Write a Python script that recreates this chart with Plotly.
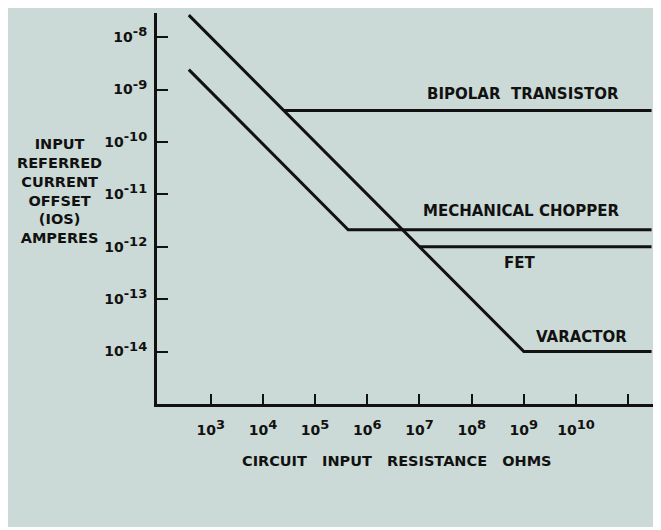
import math
import plotly.graph_objects as go

# ---- data (log-log) ----
bipolar_r = [2.5e4, 2.8e11]
bipolar_i = [4e-10, 4e-10]

chopper_r = [380, 4.3e5, 2.8e11]
chopper_i = [2.4e-9, 2.1e-12, 2.1e-12]

fet_r = [1e7, 2.8e11]
fet_i = [1e-12, 1e-12]

varactor_r = [380, 1e9, 2.8e11]
varactor_i = [2.63e-8, 1e-14, 1e-14]

x_tickvals = [1e3, 1e4, 1e5, 1e6, 1e7, 1e8, 1e9, 1e10, 1e11]
x_exps = ["3", "4", "5", "6", "7", "8", "9", "10", ""]
y_tickvals = [1e-14, 1e-13, 1e-12, 1e-11, 1e-10, 1e-9, 1e-8]
y_exps = ["-14", "-13", "-12", "-11", "-10", "-9", "-8"]

labels = ["BIPOLAR\u00a0\u00a0TRANSISTOR", "MECHANICAL\u00a0CHOPPER", "FET", "VARACTOR"]
label_r = [9.8e8, 8.9e8, 8.3e8, 1.3e10]
label_i = [8.3e-10, 4.8e-12, 5.0e-13, 1.9e-14]

BG = "#cbdad6"
INK = "#111111"
FONT = "DejaVu Sans, Liberation Sans, sans-serif"


def power_label(e):
    if not e:
        return ""
    return "<b>10<sup><span style='font-size:13px'>" + e + "</span></sup></b>"


fig = go.Figure()
for xs, ys in [(bipolar_r, bipolar_i), (chopper_r, chopper_i), (fet_r, fet_i), (varactor_r, varactor_i)]:
    fig.add_trace(go.Scatter(x=xs, y=ys, mode="lines",
                             line=dict(color=INK, width=3), showlegend=False,
                             hoverinfo="skip"))

for t, xr, yi in zip(labels, label_r, label_i):
    fig.add_annotation(x=math.log10(xr), y=math.log10(yi), xref="x", yref="y",
                       text="<b>" + t + "</b>",
                       showarrow=False, font=dict(family=FONT, size=15, color=INK))

# page offset of the figure (default body margin)
OFF = 8
PL, PR, PT, PB = 157, 653, 13, 404  # plot area in page pixels


def px(xp):
    return (xp - PL) / (PR - PL)


def py(yp):
    return (PB - yp) / (PB - PT)


fig.add_annotation(xref="paper", yref="paper", x=px(397), y=py(461),
                   text="<b>CIRCUIT\u00a0\u00a0 INPUT\u00a0\u00a0 RESISTANCE\u00a0\u00a0 OHMS</b>",
                   showarrow=False, font=dict(family=FONT, size=14.5, color=INK),
                   xanchor="center", yanchor="middle")
fig.add_annotation(xref="paper", yref="paper", x=px(59), y=py(191),
                   text="<b>INPUT<br>REFERRED<br>CURRENT<br>OFFSET<br>(IOS)<br>AMPERES</b>",
                   showarrow=False, font=dict(family=FONT, size=14.5, color=INK),
                   xanchor="center", yanchor="middle", align="center")

fig.add_shape(type="rect", xref="paper", yref="paper", layer="below",
              x0=px(0), x1=px(680), y0=py(527), y1=py(0),
              fillcolor=BG, line=dict(width=0))

fig.update_xaxes(type="log", range=[1.97, 11.475], tickvals=x_tickvals,
                 ticktext=[power_label(e) for e in x_exps],
                 ticks="inside", ticklen=10, tickwidth=2, tickcolor=INK,
                 showline=True, linecolor=INK, linewidth=3, showgrid=False, zeroline=False,
                 tickfont=dict(family=FONT, size=14, color=INK), ticklabelstandoff=11)
fig.update_yaxes(type="log", range=[-15, -7.54], tickvals=y_tickvals,
                 ticktext=[power_label(e) for e in y_exps],
                 ticks="inside", ticklen=11, tickwidth=2, tickcolor=INK,
                 showline=True, linecolor=INK, linewidth=3, showgrid=False, zeroline=False,
                 tickfont=dict(family=FONT, size=14, color=INK), ticklabelstandoff=4)

W, H = 661 - OFF, 530 - OFF
fig.update_layout(width=W, height=H,
                  margin=dict(l=PL - OFF, r=661 - PR, t=PT - OFF, b=530 - PB),
                  paper_bgcolor="white", plot_bgcolor="rgba(0,0,0,0)",
                  font=dict(family=FONT, color=INK))

fig.write_html("out.html")
